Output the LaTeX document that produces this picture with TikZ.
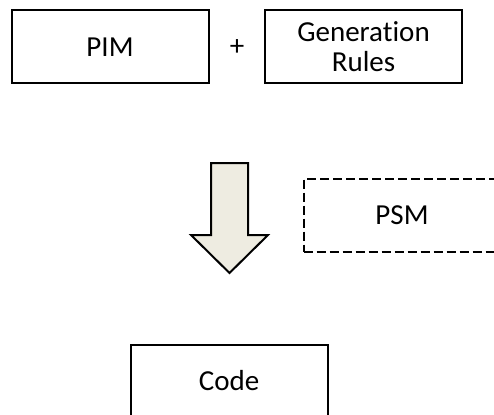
\documentclass[tikz,border=0pt]{standalone}
\usepackage{fontspec}
\setmainfont[Ligatures={NoCommon}]{Carlito}
\definecolor{arrowfill}{HTML}{EEECE1}
\begin{document}
\begin{tikzpicture}[x=1pt,y=-1pt,
  box/.style={draw=black,line width=2pt,minimum width=197pt,minimum height=73pt,inner sep=0pt,align=center,font=\fontsize{29}{30}\selectfont},
  dbox/.style={box,dash pattern=on 9pt off 4pt},
  lbl/.style={font=\fontsize{29}{30}\selectfont,inner sep=0pt}]
\useasboundingbox (0,0) rectangle (494,414);
\clip (0,0) rectangle (494,414);
\node[box] (pim) at (110,47) {PIM};
\node[lbl] (plus) at (237,48) {+};
\node[box] (gen) at (363.5,47) {Generation\\Rules};
\node[dbox] (psm) at (402,215) {PSM};
\node[box] (code) at (229,381) {Code};
\draw[line width=2pt,fill=arrowfill,line join=miter]
  (211,163) -- (248,163) -- (248,235) -- (268,235) -- (229.5,273) -- (191,235) -- (211,235) -- cycle;
\end{tikzpicture}
\end{document}
